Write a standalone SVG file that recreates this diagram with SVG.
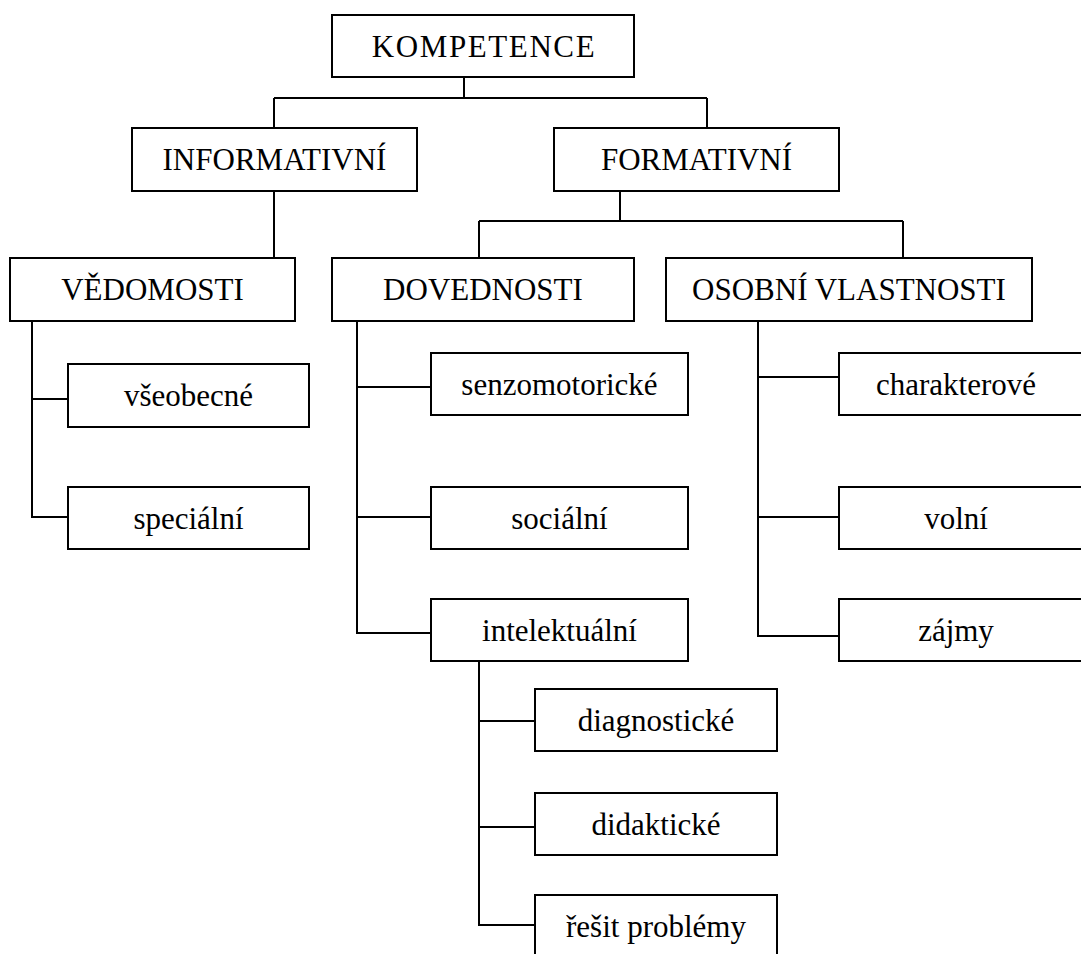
<svg xmlns="http://www.w3.org/2000/svg" width="1081" height="954" viewBox="0 0 1081 954">
<style>
rect{fill:#fff;stroke:#000;stroke-width:2}
text{font-family:'Liberation Serif','Times New Roman',serif;font-size:31px;fill:#000;text-anchor:middle}
.c path{fill:none;stroke:#000;stroke-width:2}
</style>
<rect x="0" y="0" width="1081" height="954" style="stroke:none"/>
<g class="c" id="connectors">
<path d="M464,77V98M274,98H707M274,98V128M707,98V128"/>
<path d="M274,191V258"/>
<path d="M620,191V221M479,221H903M479,221V258M903,221V258"/>
<path d="M32,321V517H68M32,399H68"/>
<path d="M357,321V633H431M357,387H431M357,517H431"/>
<path d="M758,321V636H839M758,377H839M758,517H839"/>
<path d="M479,661V925H535M479,721H535M479,827H535"/>
</g>
<g id="kompetence"><rect x="332" y="15" width="302" height="62"/><text x="484" y="57" letter-spacing="1.6">KOMPETENCE</text></g>
<g id="informativni"><rect x="132" y="128" width="285" height="63"/><text x="274.5" y="170">INFORMATIVNÍ</text></g>
<g id="formativni"><rect x="554" y="128" width="285" height="63"/><text x="696.5" y="170">FORMATIVNÍ</text></g>
<g id="vedomosti"><rect x="10" y="258" width="285" height="63"/><text x="152.5" y="300">VĚDOMOSTI</text></g>
<g id="dovednosti"><rect x="332" y="258" width="302" height="63"/><text x="483" y="300">DOVEDNOSTI</text></g>
<g id="osobni"><rect x="666" y="258" width="366" height="63"/><text x="849" y="300">OSOBNÍ VLASTNOSTI</text></g>
<g id="vseobecne"><rect x="68" y="364" width="241" height="63"/><text x="188.5" y="406">všeobecné</text></g>
<g id="specialni"><rect x="68" y="487" width="241" height="62"/><text x="188.5" y="528.5">speciální</text></g>
<g id="senzomotoricke"><rect x="431" y="353" width="257" height="62"/><text x="559.5" y="394.5">senzomotorické</text></g>
<g id="socialni"><rect x="431" y="487" width="257" height="62"/><text x="559.5" y="528.5">sociální</text></g>
<g id="intelektualni"><rect x="431" y="599" width="257" height="62"/><text x="559.5" y="640.5">intelektuální</text></g>
<g id="charakterove"><rect x="839" y="353" width="244" height="62"/><text x="956" y="394.5">charakterové</text></g>
<g id="volni"><rect x="839" y="487" width="244" height="62"/><text x="956" y="528.5">volní</text></g>
<g id="zajmy"><rect x="839" y="599" width="244" height="62"/><text x="956" y="640.5">zájmy</text></g>
<g id="diagnosticke"><rect x="535" y="689" width="242" height="62"/><text x="656" y="730.5">diagnostické</text></g>
<g id="didakticke"><rect x="535" y="793" width="242" height="62"/><text x="656" y="834.5">didaktické</text></g>
<g id="resit"><rect x="535" y="895" width="242" height="80"/><text x="656" y="936.5">řešit problémy</text></g>
</svg>
